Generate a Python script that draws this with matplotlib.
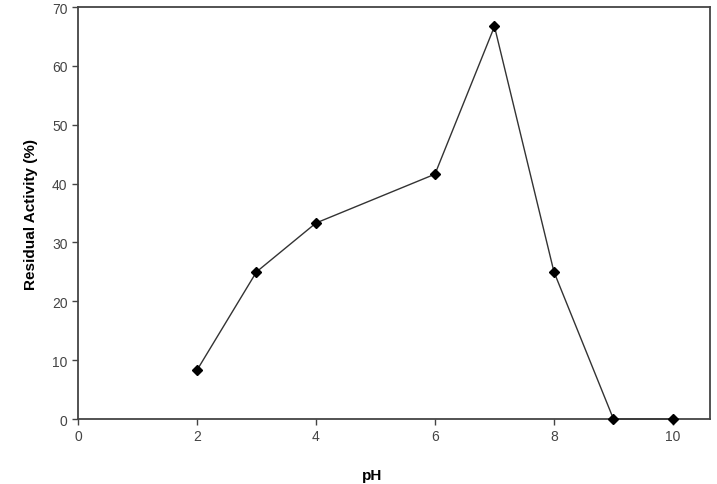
import matplotlib.pyplot as plt

plt.rcParams['font.family'] = ['Liberation Sans', 'DejaVu Sans']

ph = [2, 3, 4, 6, 7, 8, 9, 10]
activity = [8.3, 25.0, 33.3, 41.6, 66.7, 25.0, 0.0, 0.0]
xticks = [0, 2, 4, 6, 8, 10]
yticks = [0, 10, 20, 30, 40, 50, 60, 70]

fig = plt.figure(figsize=(7.17, 4.85), dpi=100)
ax = fig.add_axes([0.1088, 0.134, 0.8812, 0.8495])

ax.plot(ph, activity, color='#333333', lw=1.0, marker='D', markersize=5,
        markerfacecolor='black', markeredgecolor='black', clip_on=False, zorder=5)

ax.set_xlim(0, 10.62)
ax.set_ylim(0, 70)
ax.set_xticks(xticks)
ax.set_yticks(yticks)
ax.tick_params(direction='out', length=4, width=1, colors='#444444',
               labelsize=10, labelcolor='#444444')
for s in ax.spines.values():
    s.set_color('#444444')
    s.set_linewidth(1.3)

ax.set_xlabel('pH', fontsize=11, fontweight='bold')
ax.xaxis.set_label_coords(0.465, -0.118)
ax.set_ylabel('Residual Activity (%)', fontsize=11, fontweight='bold', labelpad=10)

fig.savefig('out.png', dpi=100)
